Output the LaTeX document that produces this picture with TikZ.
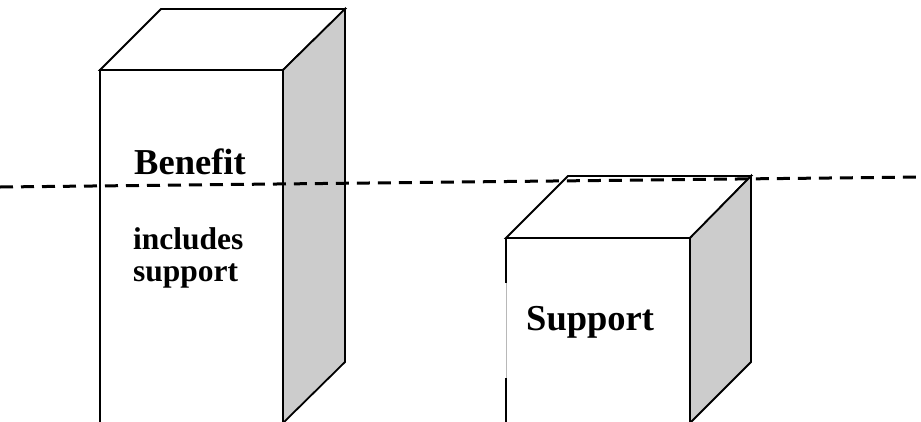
\documentclass[tikz,border=0pt]{standalone}
\usepackage{fontspec}
\setmainfont{Liberation Serif}
\definecolor{sidegray}{HTML}{CCCCCC}
\definecolor{gapgray}{HTML}{B8B8B8}
\begin{document}
\begin{tikzpicture}[x=1pt,y=-1pt,
  edge/.style={line width=1.8pt, line join=miter},
  sideface/.style={edge, fill=sidegray},
  faceface/.style={edge, fill=white},
  level/.style={line width=3pt, dash pattern=on 13pt off 8pt},
  bigtext/.style={inner sep=0pt, font=\fontsize{36.5}{38}\selectfont\bfseries},
  smalltext/.style={inner sep=0pt, align=left, font=\fontsize{31.5}{32}\selectfont\bfseries}]
\useasboundingbox (0,0) rectangle (921,421);
\begin{scope}
\clip (0,0) rectangle (921,421);
% tall block
\coordinate (a1) at (100,70);  \coordinate (a2) at (283,70);
\coordinate (a3) at (161,9);   \coordinate (a4) at (345,9);
\coordinate (a5) at (345,362); \coordinate (a6) at (283,423);
\coordinate (a7) at (100,423);
\draw[faceface] (a7) -- (a1) -- (a2) -- (a6);
\draw[faceface] (a1) -- (a3) -- (a4) -- (a2) -- cycle;
\draw[sideface] (a2) -- (a4) -- (a5) -- (a6) -- cycle;
% short block
\coordinate (b1) at (506,238); \coordinate (b2) at (690,238);
\coordinate (b3) at (568,176); \coordinate (b4) at (751,176);
\coordinate (b5) at (751,362); \coordinate (b6) at (690,423);
\coordinate (b7) at (506,423);
\coordinate (g1) at (506,283); \coordinate (g2) at (506,378);
\draw[faceface] (b1) -- (b2) -- (b6);
\draw[edge] (b1) -- (g1);
\draw[line width=0.8pt, gapgray] (g1) -- (g2);
\draw[edge] (g2) -- (b7);
\draw[faceface] (b1) -- (b3) -- (b4) -- (b2) -- cycle;
\draw[sideface] (b2) -- (b4) -- (b5) -- (b6) -- cycle;
\end{scope}
% labels
\node[bigtext, anchor=base west] (benefit) at (134,174) {Benefit};
\node[smalltext, anchor=base west] (incl) at (133,281) {includes\\support};
\node[bigtext, anchor=base west] (support) at (526,330) {Support};
% level line
\coordinate (l1) at (0,187);
\coordinate (l2) at (921,177);
\draw[level] (l1) -- (l2);
\end{tikzpicture}
\end{document}
